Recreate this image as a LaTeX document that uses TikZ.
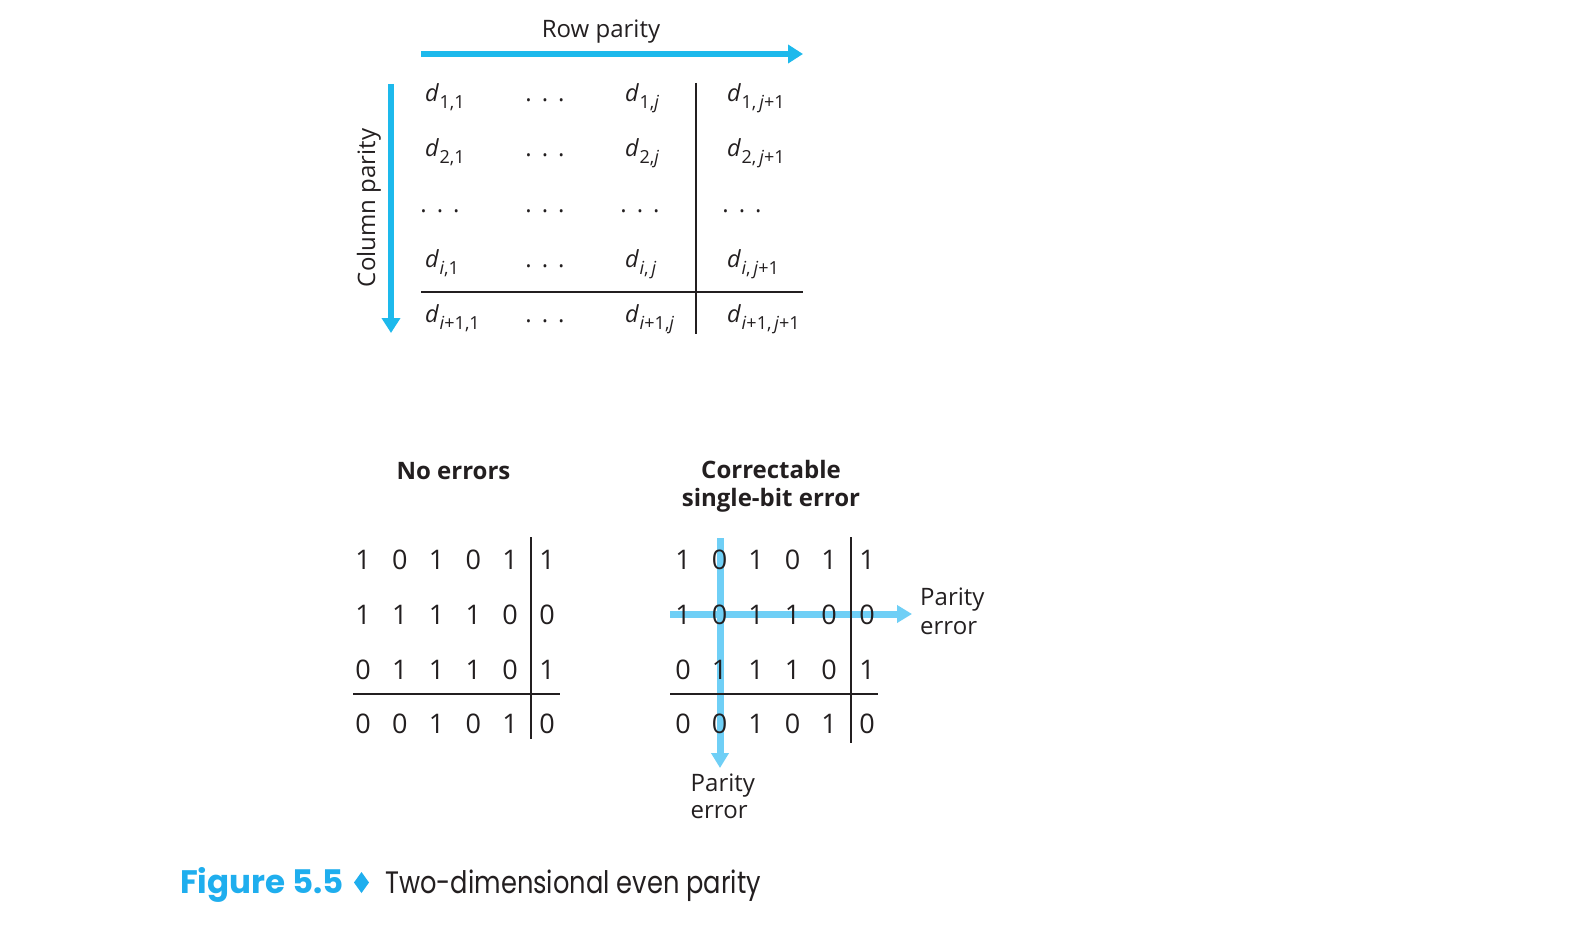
\documentclass[tikz,border=0pt]{standalone}
\usepackage{fontspec}
\setmainfont{Open Sans}
\newfontfamily\capfont{Poppins}
\usetikzlibrary{arrows.meta}
\definecolor{arrowcyan}{HTML}{1DB9EC}
\definecolor{lightcyan}{HTML}{6FCFF6}
\definecolor{capcyan}{HTML}{1FAEEE}
\definecolor{inkblack}{HTML}{231F20}
\newcommand\dvar[1]{\textit{d}\kern0.5pt\raisebox{-7pt}{\fontsize{18}{18}\selectfont #1}}
\newcommand\tdots{.\kern10pt.\kern10pt.}
\newcommand\ivar{\textit{i}}
\newcommand\jvar{\textit{j}}
\begin{document}
\begin{tikzpicture}[x=1pt,y=-1pt,
  lbl/.style={inner sep=0pt, text=inkblack, font=\fontsize{24}{28}\selectfont},
  dcell/.style={inner sep=0pt, anchor=base west, text=inkblack, font=\fontsize{23.5}{28}\selectfont},
  dotcell/.style={inner sep=0pt, anchor=base, text=inkblack, font=\fontsize{24}{28}\selectfont},
  bit/.style={inner sep=0pt, anchor=base, text=inkblack, font=\fontsize{27}{30}\selectfont},
  title/.style={inner sep=0pt, anchor=base, text=inkblack, font=\bfseries\fontsize{24}{28}\selectfont},
  rule/.style={draw=inkblack, line width=2.6pt},
  bigarrow/.style={draw=arrowcyan, line width=6.7pt, -{Triangle[length=15pt,width=18pt]}},
  errarrow/.style={draw=lightcyan, line width=7pt, -{Triangle[length=15pt,width=17pt]}},
]
\useasboundingbox[fill=white] (0,0) rectangle (1594,936);

% ---------- top: general scheme ----------
\node[lbl, anchor=base] (rowlbl) at (601,38) {Row parity};
\coordinate (rp0) at (421,54);
\coordinate (rp1) at (803,54);
\draw[bigarrow] (rp0) -- (rp1);

\node[lbl, anchor=base, rotate=90] (collbl) at (375,208) {Column parity};
\coordinate (cp0) at (391,84);
\coordinate (cp1) at (391,333);
\draw[bigarrow] (cp0) -- (cp1);

\coordinate (gh0) at (421,292);
\coordinate (gh1) at (803,292);
\coordinate (gv0) at (696,83);
\coordinate (gv1) at (696,334);
\draw[rule] (gh0) -- (gh1);
\draw[rule] (gv0) -- (gv1);

\node[dcell] (d11) at (425,102) {\dvar{1,1}};
\node[dotcell] (d12) at (545,102) {\tdots};
\node[dcell] (d13) at (625,102) {\dvar{1,\jvar}};
\node[dcell] (d14) at (727,102) {\dvar{1,\,\jvar+1}};

\node[dcell] (d21) at (425,157) {\dvar{2,1}};
\node[dotcell] (d22) at (545,157) {\tdots};
\node[dcell] (d23) at (625,157) {\dvar{2,\jvar}};
\node[dcell] (d24) at (727,157) {\dvar{2,\,\jvar+1}};

\node[dotcell] (d31) at (440,212) {\tdots};
\node[dotcell] (d32) at (545,212) {\tdots};
\node[dotcell] (d33) at (640,212) {\tdots};
\node[dotcell] (d34) at (742,212) {\tdots};

\node[dcell] (d41) at (425,267) {\dvar{\ivar,1}};
\node[dotcell] (d42) at (545,267) {\tdots};
\node[dcell] (d43) at (625,267) {\dvar{\ivar,\,\jvar}};
\node[dcell] (d44) at (727,267) {\dvar{\ivar,\,\jvar+1}};

\node[dcell] (d51) at (425,322) {\dvar{\ivar+1,1}};
\node[dotcell] (d52) at (545,322) {\tdots};
\node[dcell] (d53) at (625,322) {\dvar{\ivar+1,\jvar}};
\node[dcell] (d54) at (727,322) {\dvar{\ivar+1,\,\jvar+1}};

% ---------- bottom left: no errors ----------
\node[title] (noerr) at (453.5,479) {No errors};
\coordinate (lh0) at (353,694);
\coordinate (lh1) at (560,694);
\coordinate (lv0) at (531,537);
\coordinate (lv1) at (531,739);
\draw[rule] (lh0) -- (lh1);
\draw[rule] (lv0) -- (lv1);
\foreach \y/\vals [count=\r] in {569/{1,0,1,0,1,1}, 624/{1,1,1,1,0,0}, 679/{0,1,1,1,0,1}, 733/{0,0,1,0,1,0}} {
  \foreach \v [count=\c] in \vals {
    \pgfmathsetmacro\xx{\c<6 ? 363+36.75*(\c-1) : 547}
    \node[bit, name=L\r\c] at (\xx,\y) {\v};
  }
}

% ---------- bottom right: correctable error ----------
\node[title] (corr1) at (771,478) {Correctable};
\node[title] (corr2) at (771,506.5) {single-bit error};
\coordinate (ev0) at (720,538);
\coordinate (ev1) at (720,768);
\coordinate (eh0) at (670,614);
\coordinate (eh1) at (912,614);
\draw[errarrow] (ev0) -- (ev1);
\draw[errarrow] (eh0) -- (eh1);
\coordinate (rh0) at (670,694);
\coordinate (rh1) at (878,694);
\coordinate (rv0) at (851,537);
\coordinate (rv1) at (851,743);
\draw[rule] (rh0) -- (rh1);
\draw[rule] (rv0) -- (rv1);
\foreach \y/\vals [count=\r] in {569/{1,0,1,0,1,1}, 624/{1,0,1,1,0,0}, 679/{0,1,1,1,0,1}, 733/{0,0,1,0,1,0}} {
  \foreach \v [count=\c] in \vals {
    \pgfmathsetmacro\xx{\c<6 ? 683+36.5*(\c-1) : 867}
    \node[bit, name=R\r\c] at (\xx,\y) {\v};
  }
}
\node[lbl, anchor=base west] (pe1a) at (920,605.5) {Parity};
\node[lbl, anchor=base west] (pe1b) at (920,634) {error};
\node[lbl, anchor=base west] (pe2a) at (690.5,791.5) {Parity};
\node[lbl, anchor=base west] (pe2b) at (690.5,818) {error};

% ---------- caption ----------
\node[inner sep=0pt, anchor=base west, text=capcyan, font=\capfont\bfseries\fontsize{32.5}{36}\selectfont] (fig) at (180,893) {Figure 5.5};
\fill[capcyan] (361.5,872) -- (369,882.5) -- (361.5,893) -- (354,882.5) -- cycle;
\node[inner sep=0pt, anchor=base west, text=inkblack, font=\capfont\fontsize{31}{36}\selectfont] (cap) at (385,893) {\scalebox{0.83}[1]{Two-dimensional even parity}};
\end{tikzpicture}
\end{document}
